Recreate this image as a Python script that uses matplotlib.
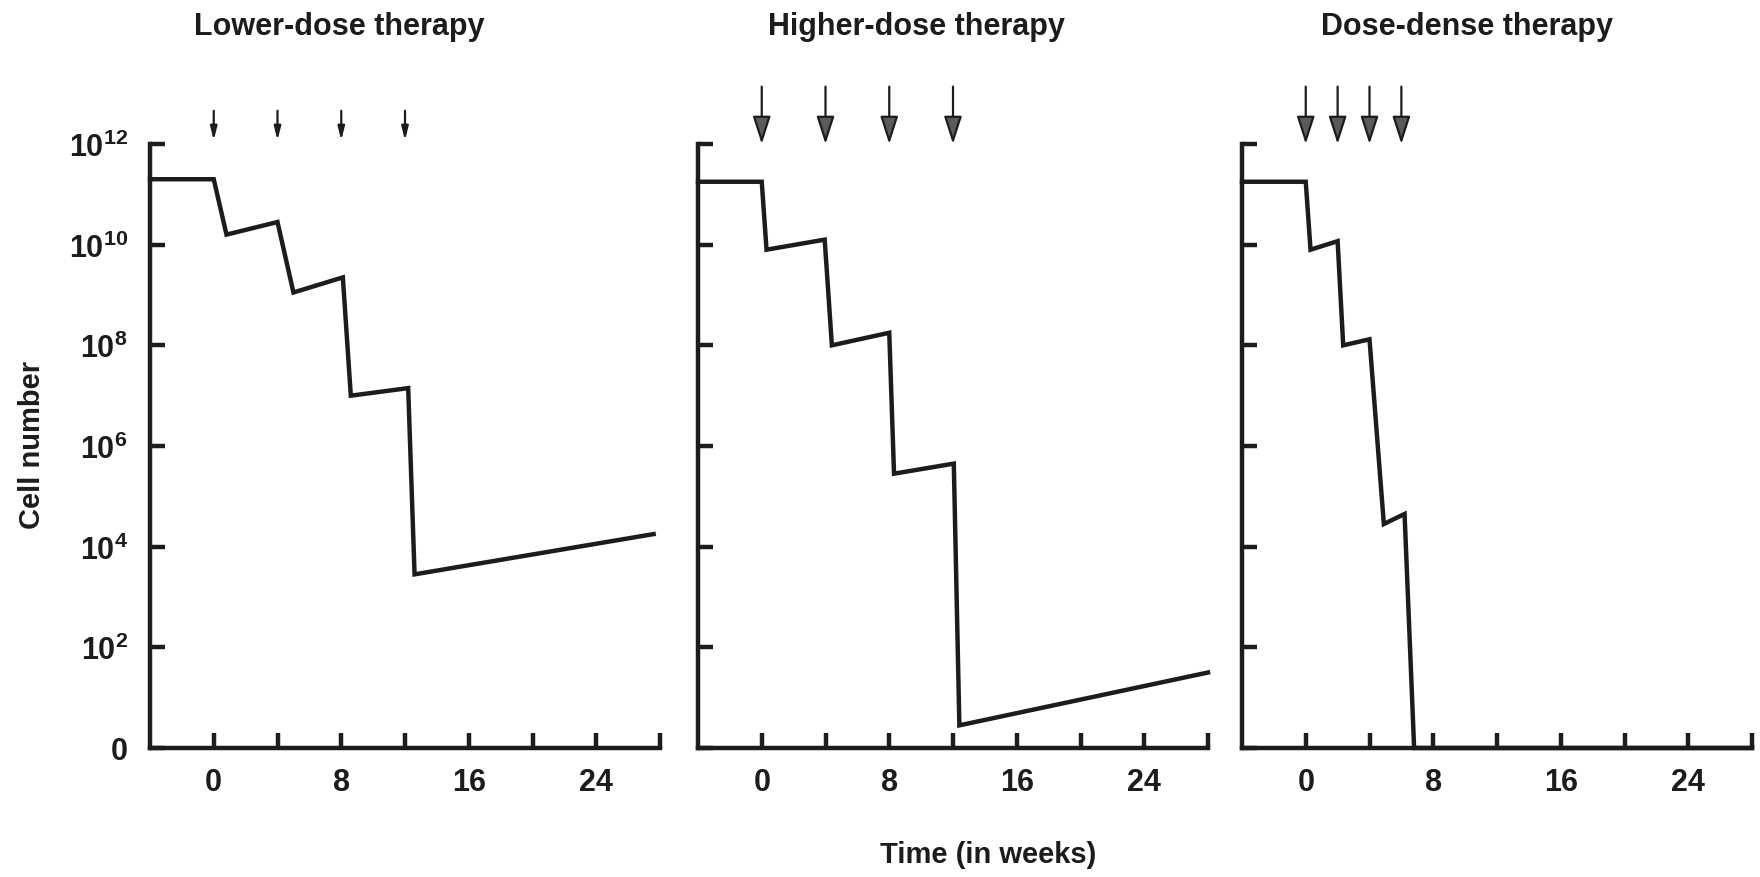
import numpy as np
import matplotlib
matplotlib.use('Agg')
import matplotlib.pyplot as plt
import matplotlib.transforms as mtransforms

plt.rcParams['font.family'] = ['Liberation Sans', 'DejaVu Sans']
plt.rcParams['mathtext.default'] = 'regular'

# data: time in weeks, cell number as log10 (bottom of axis labelled "0")
titles = ['Lower-dose therapy', 'Higher-dose therapy', 'Dose-dense therapy']

low_t = [-4, 0, 0.8, 4.0, 5.0, 8.1, 8.6, 12.2, 12.6, 27.6]
low_y = [11.3, 11.3, 10.2, 10.45, 9.05, 9.35, 7.0, 7.15, 3.45, 4.25]

high_t = [-4, 0, 0.3, 3.95, 4.4, 8.0, 8.3, 12.05, 12.4, 28]
high_y = [11.25, 11.25, 9.9, 10.1, 8.0, 8.25, 5.45, 5.65, 0.45, 1.5]

dense_t = [-4, 0, 0.3, 2.0, 2.35, 4.0, 4.9, 6.2, 6.8, 28]
dense_y = [11.25, 11.25, 9.9, 10.07, 8.0, 8.12, 4.45, 4.65, 0.0, 0.0]

low_doses = [0, 4, 8, 12]
high_doses = [0, 4, 8, 12]
dense_doses = [0, 2, 4, 6]

x_ticks = [0, 4, 8, 12, 16, 20, 24, 28]
x_labels = ['0', '', '8', '', '16', '', '24', '']
y_ticks = [0, 2, 4, 6, 8, 10, 12]
y_labels = ['0', '$10^2$', '$10^4$', '$10^6$', '$10^8$', '$10^{10}$', '$10^{12}$']

series = [(low_t, low_y, low_doses), (high_t, high_y, high_doses), (dense_t, dense_y, dense_doses)]

ink = '#1c1c1c'
fig = plt.figure(figsize=(17.6, 8.78), dpi=100, facecolor='white')

lefts = [150/1760, 698/1760, 1242/1760]
width = 510/1760
bottom = 129/878
height = 604/878
title_x = [7.9, 9.7, 10.1]

for i, (t, y, doses) in enumerate(series):
    ax = fig.add_axes([lefts[i], bottom, width, height])
    ax.plot(t, y, color=ink, lw=3.2, solid_joinstyle='miter', clip_on=False, zorder=3)
    ax.set_xlim(-4, 28)
    ax.set_ylim(0, 12)
    for s in ['top', 'right']:
        ax.spines[s].set_visible(False)
    for s in ['left', 'bottom']:
        ax.spines[s].set_linewidth(3.2)
        ax.spines[s].set_color(ink)
    ax.set_xticks(x_ticks)
    ax.set_xticklabels(x_labels)
    ax.set_yticks(y_ticks)
    if i == 0:
        ax.set_yticklabels(y_labels)
    else:
        ax.set_yticklabels([])
    ax.tick_params(axis='both', direction='in', length=11, width=3.2, color=ink,
                   labelsize=22, labelcolor=ink)
    ax.tick_params(axis='x', pad=14)
    ax.tick_params(axis='y', pad=16)
    for lab in ax.get_xticklabels() + ax.get_yticklabels():
        lab.set_fontweight('bold')

    trans = mtransforms.blended_transform_factory(ax.transData, ax.transAxes)
    ax.text(title_x[i], 1.195, titles[i], transform=trans, ha='center', va='center',
            fontsize=22, fontweight='bold', color=ink,
            family=['Liberation Sans Narrow', 'Liberation Sans', 'DejaVu Sans'])

    # dosing arrows
    for d in doses:
        if i == 0:
            ax.annotate('', xy=(d, 1.006), xytext=(d, 1.055), xycoords=trans, textcoords=trans,
                        arrowprops=dict(arrowstyle='-|>,head_length=0.8,head_width=0.2',
                                        lw=1.6, color=ink, shrinkA=0, shrinkB=0))
        else:
            ax.annotate('', xy=(d, 1.0), xytext=(d, 1.095), xycoords=trans, textcoords=trans,
                        arrowprops=dict(arrowstyle='-|>,head_length=1.7,head_width=0.55',
                                        lw=1.6, ec=ink, fc='#5a5a5a', shrinkA=0, shrinkB=0))

fig.text(32/1760, 1 - 445/878, 'Cell number', rotation=90, ha='center', va='center',
         fontsize=21, fontweight='bold', color=ink)
fig.text(988/1760, 1 - 855/878, 'Time (in weeks)', ha='center', va='center',
         fontsize=21, fontweight='bold', color=ink)

fig.savefig('out.png', dpi=100, facecolor='white')
